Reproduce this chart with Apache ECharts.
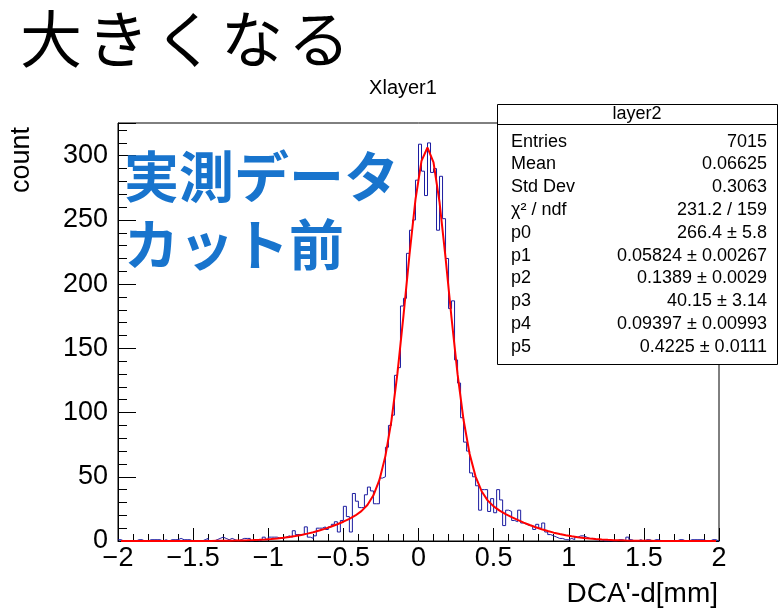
<!DOCTYPE html>
<html><head><meta charset="utf-8">
<script src="https://cdn.jsdelivr.net/npm/echarts@6/dist/echarts.min.js"></script>
<style>html,body{margin:0;padding:0;background:#fff}#c{width:778px;height:609px}</style>
</head><body><div id="c"></div>
<script>
// ---- data ----
const histMin = -2, histMax = 2, histBinWidth = 0.02;
const binCounts = [
  1,0,0,0,0,0,1,1,0,0, 1,1,1,1,0,1,0,1,1,1,
  2,1,1,1,0,0,0,0,1,2, 0,0,1,2,3,2,1,2,1,0,
  1,2,2,2,0,1,0,1,3,1, 3,3,3,2,2,3,4,3,8,5,
  5,5,11,3,2,4,10,10,11,9, 11,13,15,7,16,27,19,7,37,31,
  26,26,36,42,39,29,29,49,50,73, 90,98,129,135,183,189,224,242,250,281,
  309,288,269,310,287,290,242,284,251,220, 181,187,141,123,96,77,70,53,50,43,
  24,40,40,23,33,22,40,32,12,24, 23,16,15,24,14,13,12,12,9,13,
  10,14,7,5,4,3,2,2,1,1, 2,1,3,4,4,3,2,2,1,1,
  1,0,0,0,0,0,1,1,0,3, 1,0,0,1,0,1,1,0,1,1,
  0,0,0,0,0,0,1,1,0,0, 1,1,1,1,1,0,0,1,1,0
];
const fitStart = -1.98, fitStep = 0.04;
const fitValues = [
  0,0,0,0,0,0,0,0,0.01,0.01,
  0.02,0.02,0.03,0.05,0.07,0.09,0.13,0.17,0.24,0.32,
  0.43,0.56,0.74,0.96,1.24,1.59,2.01,2.52,3.14,3.87,
  4.73,5.73,6.87,8.16,9.63,11.26,13.05,15.02,17.24,19.87,
  23.24,28.06,35.57,47.58,66.29,93.78,130.70,175.44,223.07,266.01,
  296.04,306.40,294.75,263.91,220.73,173.60,129.88,94.20,67.91,50.13,
  38.77,31.65,26.99,23.65,20.95,18.58,16.39,14.35,12.47,10.74,
  9.17,7.76,6.50,5.41,4.45,3.63,2.94,2.36,1.87,1.48,
  1.15,0.89,0.68,0.52,0.39,0.29,0.22,0.16,0.12,0.08,
  0.06,0.04,0.03,0.02,0.01,0.01,0.01,0,0,0
];
const yMax = 325.5;
const histTitle = 'Xlayer1';
const xTitle = "DCA'-d[mm]";
const yTitle = 'count';
const bigTitle = '大きくなる';
const noteLines = ['実測データ', 'カット前'];
const statsTitle = 'layer2';
const statsLabels = ['Entries','Mean','Std Dev','χ² / ndf','p0','p1','p2','p3','p4','p5'];
const statsValues = ['7015','0.06625','0.3063','231.2 / 159','266.4 ± 5.8','0.05824 ± 0.00267',
  '0.1389 ± 0.0029','40.15 ± 3.14','0.09397 ± 0.00993','0.4225 ± 0.0111'];

// ---- build ----
const histData = binCounts.map((v, i) => [histMin + i * histBinWidth, v]);
histData.push([histMax, binCounts[binCounts.length - 1]]);
const fitData = fitValues.map((v, k) => [fitStart + k * fitStep, v]);

const FONT = '"Liberation Sans", Arial, Helvetica, sans-serif';
const JP = '"Noto Sans CJK JP", sans-serif';
const G = {left: 118, right: 59, top: 123, bottom: 68};
const fmtX = v => (Math.abs(v) < 1e-9 ? '0' : String(+v.toFixed(2)).replace('-', '−'));

const graphics = [];
// big title, drawn character by character for the wider letter spacing of the original
Array.from(bigTitle).forEach((ch, i) => graphics.push({type:'text', x:20 + i*67, y:39, z:10,
  style:{text:ch, font:'62px ' + JP, fill:'#000', textAlign:'left', textVerticalAlign:'middle', align:'left', verticalAlign:'middle'}}));
graphics.push({type:'text', x:403, y:88, z:10, style:{text:histTitle, font:'20px ' + FONT, fill:'#000', textAlign:'center', textVerticalAlign:'middle', align:'center', verticalAlign:'middle'}});
graphics.push({type:'text', x:22, y:160, rotation:Math.PI/2, z:10, style:{text:yTitle, font:'27px ' + FONT, fill:'#000', textAlign:'center', textVerticalAlign:'middle', align:'center', verticalAlign:'middle'}});
graphics.push({type:'text', x:718, y:594, z:10, style:{text:xTitle, font:'28px ' + FONT, fill:'#000', textAlign:'right', textVerticalAlign:'middle', align:'right', verticalAlign:'middle'}});
noteLines.forEach((t, i) => graphics.push({type:'text', x:124, y:176 + i*68, z:10,
  style:{text:t, font:'bold 55px ' + JP, fill:'#1874cd', textAlign:'left', textVerticalAlign:'middle', align:'left', verticalAlign:'middle'}}));
// stats box
const bx = 497.5, by = 104.5, bw = 280, bh = 260;
graphics.push({type:'rect', z:20, shape:{x:bx, y:by, width:bw, height:bh}, style:{fill:'#fff', stroke:'#000', lineWidth:1}});
graphics.push({type:'line', z:21, shape:{x1:bx, y1:124.5, x2:bx+bw, y2:124.5}, style:{stroke:'#000', lineWidth:1}});
graphics.push({type:'text', z:22, x:637, y:114.5, style:{text:statsTitle, font:'18px ' + FONT, fill:'#000', textAlign:'center', textVerticalAlign:'middle', align:'center', verticalAlign:'middle'}});
statsLabels.forEach((t, i) => {
  const yy = 141.7 + i * 22.78;
  graphics.push({type:'text', z:22, x:511, y:yy, style:{text:t, font:'18px ' + FONT, fill:'#000', textAlign:'left', textVerticalAlign:'middle', align:'left', verticalAlign:'middle'}});
  graphics.push({type:'text', z:22, x:767, y:yy, style:{text:statsValues[i], font:'18px ' + FONT, fill:'#000', textAlign:'right', textVerticalAlign:'middle', align:'right', verticalAlign:'middle'}});
});

const chart = echarts.init(document.getElementById('c'), null, {renderer:'canvas'});
chart.setOption({
  animation: false,
  backgroundColor: '#fff',
  grid: [
    Object.assign({show:true, borderColor:'#000', borderWidth:1, backgroundColor:'transparent'}, G),
    Object.assign({show:false}, G)
  ],
  xAxis: [
    {type:'value', gridIndex:0, min:histMin, max:histMax, interval:0.5,
     axisLine:{show:true, onZero:false, lineStyle:{color:'#000', width:1}},
     axisTick:{show:true, inside:true, length:13, lineStyle:{color:'#000'}},
     splitLine:{show:false},
     axisLabel:{formatter:fmtX, fontSize:27, fontFamily:FONT, color:'#000', margin:4, showMinLabel:true, showMaxLabel:true}},
    {type:'value', gridIndex:1, min:histMin, max:histMax, interval:0.1,
     axisLine:{show:false, onZero:false}, axisLabel:{show:false}, splitLine:{show:false},
     axisTick:{show:true, inside:true, length:7, lineStyle:{color:'#000'}}}
  ],
  yAxis: [
    {type:'value', gridIndex:0, min:0, max:yMax, interval:50,
     axisLine:{show:true, onZero:false, lineStyle:{color:'#000', width:1}},
     axisTick:{show:true, inside:true, length:18, lineStyle:{color:'#000'}},
     splitLine:{show:false},
     axisLabel:{formatter: v => (Math.abs(v % 50) < 1e-6 ? String(v) : ''), fontSize:27, fontFamily:FONT, color:'#000', margin:10}},
    {type:'value', gridIndex:1, min:0, max:yMax, interval:10,
     axisLine:{show:false, onZero:false}, axisLabel:{show:false}, splitLine:{show:false},
     axisTick:{show:true, inside:true, length:9, lineStyle:{color:'#000'}}}
  ],
  series: [
    {type:'line', name:'hist', xAxisIndex:0, yAxisIndex:0, data:histData, step:'end', symbol:'none',
     lineStyle:{color:'#1c1ca0', width:1}, z:3, silent:true},
    {type:'line', name:'fit', xAxisIndex:0, yAxisIndex:0, data:fitData, symbol:'none', smooth:false,
     lineStyle:{color:'#ff0000', width:2}, z:4, silent:true}
  ],
  graphic: graphics
});
</script></body></html>
